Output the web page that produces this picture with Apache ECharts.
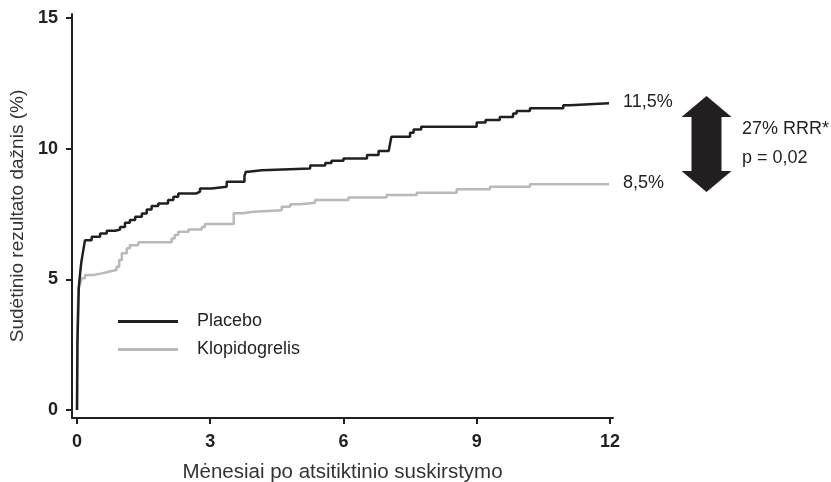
<!DOCTYPE html>
<html>
<head>
<meta charset="utf-8">
<script src="https://cdn.jsdelivr.net/npm/echarts@6/dist/echarts.min.js"></script>
<style>
html,body{margin:0;padding:0;background:#fff;}
#chart{width:831px;height:482px;}
</style>
</head>
<body>
<div id="chart"></div>
<script>
// ---- data ----
var seriesNames = ['Placebo', 'Klopidogrelis'];
var xTicks = [0, 3, 6, 9, 12];
var yTicks = [0, 5, 10, 15];
var xAxisTitle = 'Mėnesiai po atsitiktinio suskirstymo';
var yAxisTitle = 'Sudėtinio rezultato dažnis (%)';
var endLabels = ['11,5%', '8,5%'];
var rrrText = ['27% RRR*', 'p = 0,02'];

// [month, cumulative %] step points (Kaplan-Meier)
var placebo = [
  [0, 0], [0.01, 2.6], [0.04, 4.7], [0.08, 5.4], [0.10, 5.7], [0.14, 6.1], [0.18, 6.5],
  [0.33, 6.63], [0.52, 6.76], [0.67, 6.86], [0.86, 6.91], [0.97, 7.01], [1.08, 7.17],
  [1.19, 7.27], [1.31, 7.40], [1.46, 7.52], [1.57, 7.68], [1.68, 7.81], [1.83, 7.91],
  [2.05, 8.04], [2.17, 8.16], [2.28, 8.29], [2.69, 8.36], [2.77, 8.48], [3.03, 8.55],
  [3.37, 8.74], [3.77, 8.95], [3.80, 9.12], [3.86, 9.18], [4.16, 9.25], [5.25, 9.36],
  [5.59, 9.46], [5.73, 9.54], [6.0, 9.63], [6.53, 9.76], [6.79, 9.92], [7.02, 9.98],
  [7.05, 10.2], [7.08, 10.46], [7.5, 10.61], [7.58, 10.74], [7.75, 10.84], [9.0, 11.01],
  [9.2, 11.1], [9.52, 11.22], [9.82, 11.35], [9.9, 11.45], [10.2, 11.55], [10.95, 11.67],
  [11.1, 11.74], [11.98, 11.74]
];
var klopidogrelis = [
  [0, 0], [0.005, 2.93], [0.03, 4.59], [0.07, 4.85], [0.11, 5.04], [0.18, 5.17],
  [0.37, 5.23], [0.56, 5.29], [0.71, 5.36], [0.89, 5.48], [0.95, 5.74], [1.01, 6.0],
  [1.12, 6.19], [1.19, 6.31], [1.38, 6.42], [2.13, 6.57], [2.20, 6.70], [2.28, 6.82],
  [2.51, 6.91], [2.81, 7.01], [2.88, 7.12], [3.53, 7.53], [3.74, 7.59], [3.97, 7.65],
  [4.61, 7.78], [4.80, 7.88], [5.02, 7.93], [5.36, 8.04], [6.11, 8.14], [6.97, 8.23],
  [7.65, 8.32], [8.55, 8.45], [9.30, 8.55], [10.2, 8.64], [11.98, 8.64]
];

var BLACK = '#231f20';
var GRAY = '#b9b9b9';
var FONT = '"Liberation Sans", Arial, Helvetica, sans-serif';

var chart = echarts.init(document.getElementById('chart'));

var arrow = [
  [706.5, 96], [731.5, 117], [721.5, 117], [721.5, 171], [731.5, 171],
  [706.5, 192], [681.5, 171], [691.5, 171], [691.5, 117], [681.5, 117]
];

chart.setOption({
  animation: false,
  backgroundColor: '#ffffff',
  textStyle: { fontFamily: FONT },
  grid: { left: 72, right: 218, top: 14, bottom: 64, containLabel: false, outerBoundsMode: 'none' },
  legend: {
    data: seriesNames,
    orient: 'vertical',
    left: 118,
    top: 312.5,
    padding: 0,
    icon: 'rect',
    itemWidth: 60,
    itemHeight: 3,
    itemGap: 10,
    textStyle: { fontSize: 18, color: BLACK, fontFamily: FONT, padding: [0, 0, 0, 14] }
  },
  xAxis: {
    type: 'value',
    min: -0.113,
    max: 12.07,
    name: xAxisTitle,
    nameLocation: 'middle',
    nameGap: 44,
    nameTextStyle: { fontSize: 20.5, color: '#333', fontFamily: FONT },
    axisLine: { show: true, onZero: false, lineStyle: { color: BLACK, width: 2 } },
    axisTick: { show: true, customValues: xTicks, length: 6, lineStyle: { color: BLACK, width: 2 } },
    axisLabel: { customValues: xTicks, fontSize: 18, fontWeight: 'bold', color: BLACK, margin: 15, fontFamily: FONT },
    splitLine: { show: false }
  },
  yAxis: {
    type: 'value',
    min: -0.306,
    max: 15.16,
    name: yAxisTitle,
    nameLocation: 'middle',
    nameGap: 41,
    nameTextStyle: { fontSize: 19, color: '#333', fontFamily: FONT },
    axisLine: { show: true, onZero: false, lineStyle: { color: BLACK, width: 2 } },
    axisTick: { show: true, customValues: yTicks, length: 6, lineStyle: { color: BLACK, width: 2 } },
    axisLabel: { customValues: yTicks, fontSize: 18, fontWeight: 'bold', color: BLACK, margin: 14, fontFamily: FONT },
    splitLine: { show: false }
  },
  series: [
    {
      name: seriesNames[0], type: 'line', step: 'end', data: placebo,
      showSymbol: false, symbol: 'none', color: BLACK,
      lineStyle: { color: BLACK, width: 2.5 }, z: 3
    },
    {
      name: seriesNames[1], type: 'line', step: 'end', data: klopidogrelis,
      showSymbol: false, symbol: 'none', color: GRAY,
      lineStyle: { color: GRAY, width: 2.5 }, z: 2
    }
  ],
  graphic: [
    { type: 'polygon', shape: { points: arrow }, style: { fill: BLACK } },
    { type: 'text', x: 623, y: 102, style: { text: endLabels[0], fill: BLACK, font: '18px ' + FONT, verticalAlign: 'middle' } },
    { type: 'text', x: 623, y: 183, style: { text: endLabels[1], fill: BLACK, font: '18px ' + FONT, verticalAlign: 'middle' } },
    { type: 'text', x: 742, y: 129, style: { text: rrrText[0], fill: BLACK, font: '18px ' + FONT, verticalAlign: 'middle' } },
    { type: 'text', x: 742, y: 158, style: { text: rrrText[1], fill: BLACK, font: '18px ' + FONT, verticalAlign: 'middle' } }
  ]
});
</script>
</body>
</html>
